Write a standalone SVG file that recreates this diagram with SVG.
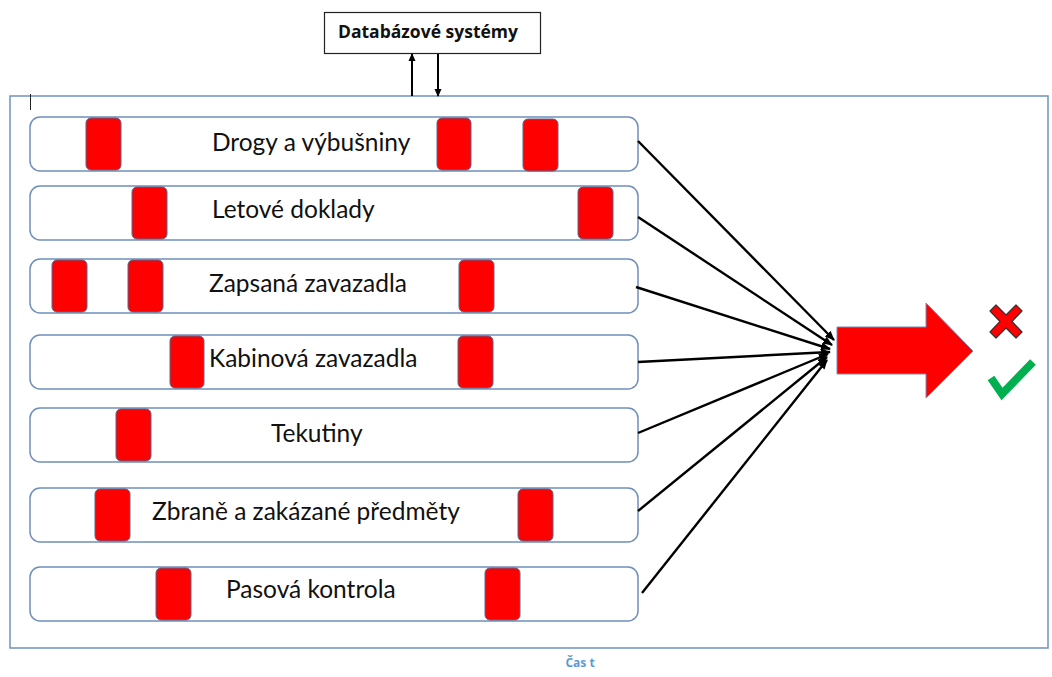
<svg xmlns="http://www.w3.org/2000/svg" width="1052" height="677" viewBox="0 0 1052 677">
<style>
.bar{fill:#fff;stroke:#6f8fba;stroke-width:1.5}
.blk{fill:#ff0000;stroke:#55698e;stroke-width:1}
.lbl{font-family:Lato,"Open Sans",sans-serif;font-size:24.5px;fill:#111}
.con{stroke:#000;stroke-width:2.4;fill:none;marker-end:url(#ah)}
</style>
<defs>
<marker id="ah" markerWidth="10" markerHeight="8" refX="9" refY="4" orient="auto" markerUnits="userSpaceOnUse">
<path d="M0,0 L10,4 L0,8 Z" fill="#000"/>
</marker>
<marker id="ah2" markerWidth="8" markerHeight="8" refX="7" refY="4" orient="auto" markerUnits="userSpaceOnUse">
<path d="M0,0.5 L8,4 L0,7.5 Z" fill="#000"/>
</marker>
</defs>
<rect width="1052" height="677" fill="#fff"/>
<rect id="frame" x="10" y="96" width="1038" height="552" fill="none" stroke="#7092be" stroke-width="1.5"/>
<line x1="30.5" y1="94" x2="30.5" y2="110" stroke="#222" stroke-width="1"/>
<g id="db">
<rect x="324.5" y="12.5" width="216" height="41" fill="#fff" stroke="#222" stroke-width="1.2"/>
<text x="428" y="38" text-anchor="middle" font-family="'Open Sans',Lato,sans-serif" font-size="17.5" font-weight="bold" fill="#111">Databázové systémy</text>
</g>
<g id="bar1">
<rect class="bar" x="30" y="117" width="608" height="54" rx="10"/>
<rect class="blk" x="86" y="118" width="35" height="52" rx="5"/>
<rect class="blk" x="437" y="118" width="34" height="52" rx="5"/>
<rect class="blk" x="523" y="119" width="35" height="52" rx="5"/>
<text class="lbl" x="212" y="151">Drogy a výbušniny</text>
</g>
<g id="bar2">
<rect class="bar" x="30" y="186" width="608" height="54" rx="10"/>
<rect class="blk" x="132" y="187" width="35" height="52" rx="5"/>
<rect class="blk" x="578" y="187" width="35" height="52" rx="5"/>
<text class="lbl" x="212" y="218">Letové doklady</text>
</g>
<g id="bar3">
<rect class="bar" x="30" y="259" width="608" height="54" rx="10"/>
<rect class="blk" x="52" y="260" width="35" height="52" rx="5"/>
<rect class="blk" x="128" y="260" width="35" height="52" rx="5"/>
<rect class="blk" x="459" y="260" width="35" height="52" rx="5"/>
<text class="lbl" x="209" y="292">Zapsaná zavazadla</text>
</g>
<g id="bar4">
<rect class="bar" x="30" y="335" width="608" height="54" rx="10"/>
<rect class="blk" x="170" y="336" width="34" height="52" rx="5"/>
<rect class="blk" x="458" y="336" width="35" height="52" rx="5"/>
<text class="lbl" x="209" y="367">Kabinová zavazadla</text>
</g>
<g id="bar5">
<rect class="bar" x="30" y="408" width="608" height="54" rx="10"/>
<rect class="blk" x="116" y="409" width="35" height="52" rx="5"/>
<text class="lbl" x="271" y="442">Tekutiny</text>
</g>
<g id="bar6">
<rect class="bar" x="30" y="488" width="608" height="54" rx="10"/>
<rect class="blk" x="95" y="489" width="35" height="52" rx="5"/>
<rect class="blk" x="518" y="489" width="35" height="52" rx="5"/>
<text class="lbl" x="152" y="520">Zbraně a zakázané předměty</text>
</g>
<g id="bar7">
<rect class="bar" x="30" y="567" width="608" height="54" rx="10"/>
<rect class="blk" x="156" y="568" width="35" height="52" rx="5"/>
<rect class="blk" x="485" y="568" width="35" height="52" rx="5"/>
<text class="lbl" x="226" y="598">Pasová kontrola</text>
</g>
<g id="connectors">
<line x1="412" y1="96" x2="412" y2="54" stroke="#000" stroke-width="2" marker-end="url(#ah2)"/>
<line x1="438" y1="54" x2="438" y2="96" stroke="#000" stroke-width="2" marker-end="url(#ah2)"/>
<line class="con" x1="638" y1="141" x2="834" y2="340"/>
<line class="con" x1="638" y1="217" x2="832" y2="345"/>
<line class="con" x1="636" y1="287" x2="830" y2="349"/>
<line class="con" x1="638" y1="362" x2="830" y2="352"/>
<line class="con" x1="638" y1="433" x2="828" y2="354"/>
<line class="con" x1="638" y1="511" x2="827" y2="357"/>
<line class="con" x1="642" y1="593" x2="827" y2="360"/>
</g>
<g id="bigarrow">
<path d="M837,327 L926,327 L926,303 L973,351 L926,398 L926,374 L837,374 Z" fill="#ff0000" stroke="#6f8fba" stroke-width="1"/>
</g>
<g id="cross">
<path d="M996,305 L1006,315 L1016,305 L1022,311 L1012,321.5 L1022,332 L1016,338 L1006,328 L996,338 L990,332 L1000,321.5 L990,311 Z" fill="#ff0000" stroke="#333" stroke-width="1.2" stroke-linejoin="round"/>
</g>
<g id="check">
<path d="M991,378 L1002,394 L1033,362" fill="none" stroke="#00b050" stroke-width="8" stroke-linejoin="miter" stroke-linecap="butt"/>
</g>
<text x="580" y="667" text-anchor="middle" font-family="'Open Sans',Lato,sans-serif" font-size="12" font-weight="bold" fill="#5b9bd5">Čas t</text>
</svg>
